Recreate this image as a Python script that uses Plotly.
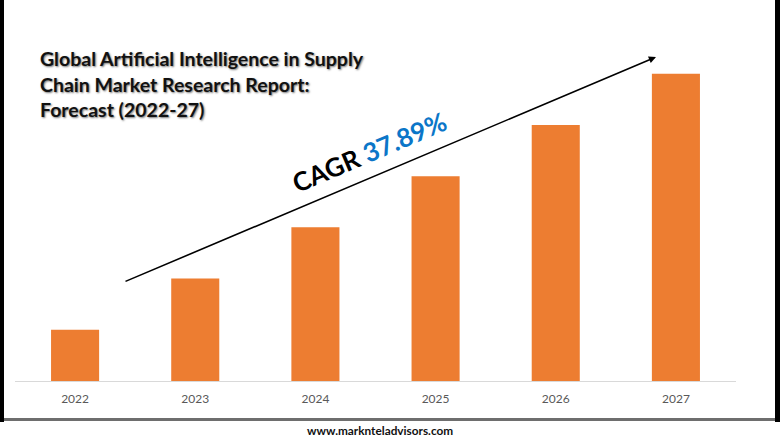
import plotly.graph_objects as go

# Bar values (no axis shown)
years = ['2022', '2023', '2024', '2025', '2026', '2027']
market_size = [1.0, 2.0, 3.0, 4.0, 5.0, 6.0]

title_lines = ['Global Artificial Intelligence in Supply',
               'Chain Market Research Report:',
               'Forecast (2022-27)']
website = 'www.marknteladvisors.com'

W, H = 780, 440
LEFT, RIGHT, BASE = 15, 736, 381
FONT = 'Lato'


# pixel position in the picture -> paper coordinates
def px(x):
    return (x - LEFT) / (RIGHT - LEFT)


def py(y):
    return (BASE - y) / BASE


fig = go.Figure()

fig.add_trace(go.Bar(
    x=years,
    y=market_size,
    marker=dict(color='#ED7D31', line=dict(width=0)),
    showlegend=False
))

fig.update_layout(
    width=W,
    height=H,
    margin=dict(l=LEFT, r=W - RIGHT, t=0, b=H - BASE, autoexpand=False),
    paper_bgcolor='white',
    plot_bgcolor='white',
    bargap=0.6,
    font=dict(family=FONT),
    xaxis=dict(
        type='category',
        showgrid=False,
        showline=True,
        linecolor='#D9D9D9',
        linewidth=1,
        ticks='outside',
        ticklen=7,
        tickcolor='rgba(0,0,0,0)',
        tickfont=dict(size=12, color='#595959', family=FONT)
    ),
    yaxis=dict(range=[0, 7.44], visible=False)
)

# Black page edges and the grey rule above the website
frame = [
    dict(x0=-1, x1=4, y0=-1, y1=422, fillcolor='black'),
    dict(x0=775, x1=781, y0=-1, y1=422, fillcolor='black'),
    dict(x0=4, x1=775, y0=418, y1=421, fillcolor='#6E6E6E'),
]
for r in frame:
    fig.add_shape(type='rect', xref='paper', yref='paper',
                  x0=px(r['x0']), x1=px(r['x1']), y0=py(r['y0']), y1=py(r['y1']),
                  fillcolor=r['fillcolor'], line_width=0, layer='above')

# Title, one annotation per line so the left edge and spacing can be held
for line, y in zip(title_lines, [59, 84, 109]):
    fig.add_annotation(
        text=line, xref='paper', yref='paper', x=px(38), y=py(y),
        xanchor='left', yanchor='middle', showarrow=False,
        font=dict(size=19.5, color='#111111', family=FONT, weight=700,
                  shadow='1px 1px 2px #777777')
    )

# CAGR arrow, tail given as pixel offset from the head
fig.add_annotation(
    text='', xref='paper', yref='paper', axref='pixel', ayref='pixel',
    x=px(656), y=py(57), ax=124 - 656, ay=282 - 57,
    showarrow=True, arrowhead=2, arrowsize=0.9, arrowwidth=1.6, arrowcolor='black'
)

fig.add_annotation(
    text="CAGR <span style='color:#0B76C8'>37.89%</span>",
    xref='paper', yref='paper', x=px(369), y=py(152),
    xanchor='center', yanchor='middle', showarrow=False, textangle=-23,
    font=dict(size=26, color='black', family=FONT, weight=700)
)

fig.add_annotation(
    text=website, xref='paper', yref='paper', x=px(380), y=py(431),
    xanchor='center', yanchor='middle', showarrow=False,
    font=dict(size=11.8, color='#111111', family=FONT, weight=700)
)

fig.write_html('out.html', config=dict(displayModeBar=False),
               post_script="document.body.style.margin='0';")
